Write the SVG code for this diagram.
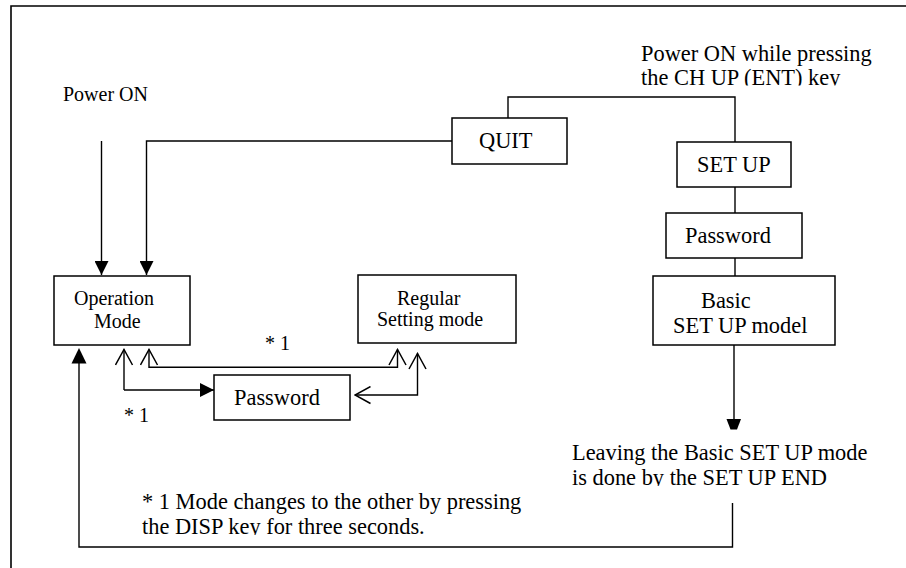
<svg xmlns="http://www.w3.org/2000/svg" width="906" height="568" viewBox="0 0 906 568">
<style>
.box{fill:#fff;stroke:#000;stroke-width:1.5}
.ln{fill:none;stroke:#000;stroke-width:1.4}
text{font-family:"Liberation Serif","Times New Roman",serif;fill:#000}
.s{font-size:20px}
.l{font-size:22.4px}
</style>
<defs>
<marker id="fa" viewBox="0 0 14 14" refX="14" refY="7" markerWidth="14" markerHeight="14" markerUnits="userSpaceOnUse" orient="auto"><path d="M0,0 L14,7 L0,14 z" fill="#000"/></marker>
<marker id="oa" viewBox="0 0 18 19" refX="16.5" refY="9.5" markerWidth="18" markerHeight="19" markerUnits="userSpaceOnUse" orient="auto-start-reverse"><path d="M1,1 L16.5,9.5 L1,18" fill="none" stroke="#000" stroke-width="1.5"/></marker>
<clipPath id="c1"><rect x="600" y="30" width="306" height="55.5"/></clipPath>
<clipPath id="c2"><rect x="540" y="430" width="366" height="56"/></clipPath>
<clipPath id="c3"><rect x="120" y="480" width="440" height="55"/></clipPath>
</defs>
<path d="M11,568 V6 H906" fill="none" stroke="#000" stroke-width="1.6"/>
<g id="connectors">
<path class="ln" d="M101.5,141 V275" marker-end="url(#fa)"/>
<path class="ln" d="M452,141 H146.5 V275" marker-end="url(#fa)"/>
<path class="ln" d="M508,118 V97 H735 V142"/>
<path class="ln" d="M735,187 V213"/>
<path class="ln" d="M735,258 V276"/>
<path class="ln" d="M734,345 V420"/>
<polygon points="726.5,419 741,419 737,429.5 730.5,429.5" fill="#000"/>
<path class="ln" d="M732.5,503 V547 H79 V363"/>
<polygon points="71.5,363.5 86.5,363.5 79,348" fill="#000"/>
<path class="ln" d="M124,390 H214" marker-end="url(#fa)"/>
<path class="ln" d="M124,390 V349.5" marker-end="url(#oa)"/>
<path class="ln" d="M149,349.5 V367.3 H397.5 V349.5" marker-start="url(#oa)" marker-end="url(#oa)"/>
<path class="ln" d="M355,395 H417.5 V353.5" marker-start="url(#oa)" marker-end="url(#oa)"/>
</g>
<g id="operation-mode">
<rect class="box" x="54" y="276" width="136" height="69"/>
<text class="s" x="74" y="305">Operation</text>
<text class="s" x="94" y="328">Mode</text>
</g>
<g id="regular-setting-mode">
<rect class="box" x="358" y="275" width="158" height="68"/>
<text class="s" x="397" y="305">Regular</text>
<text class="s" x="377" y="326">Setting mode</text>
</g>
<g id="password-lower">
<rect class="box" x="214" y="375" width="136" height="45"/>
<text class="l" x="234" y="405">Password</text>
</g>
<g id="quit">
<rect class="box" x="452" y="118" width="115" height="46"/>
<text class="l" x="479" y="148">QUIT</text>
</g>
<g id="setup">
<rect class="box" x="677" y="142" width="114" height="45"/>
<text class="l" x="697" y="172">SET UP</text>
</g>
<g id="password-upper">
<rect class="box" x="666" y="213" width="136" height="45"/>
<text class="l" x="685" y="243">Password</text>
</g>
<g id="basic-setup">
<rect class="box" x="653" y="276" width="182" height="69"/>
<text class="l" x="701" y="308">Basic</text>
<text class="l" x="673" y="333">SET UP model</text>
</g>
<g id="labels">
<text class="s" x="63" y="101">Power ON</text>
<g clip-path="url(#c1)">
<text class="l" x="641" y="61">Power ON while pressing</text>
<text class="l" x="641" y="84.5">the CH UP (ENT) key</text>
</g>
<text class="s" x="265" y="350">* 1</text>
<text class="s" x="124" y="422">* 1</text>
<g clip-path="url(#c2)">
<text class="l" x="572" y="460">Leaving the Basic SET UP mode</text>
<text class="l" x="572" y="484.5">is done by the SET UP END</text>
</g>
<g clip-path="url(#c3)">
<text class="l" x="142" y="509">* 1 Mode changes to the other by pressing</text>
<text class="l" x="142" y="534">the DISP key for three seconds.</text>
</g>
</g>
</svg>
